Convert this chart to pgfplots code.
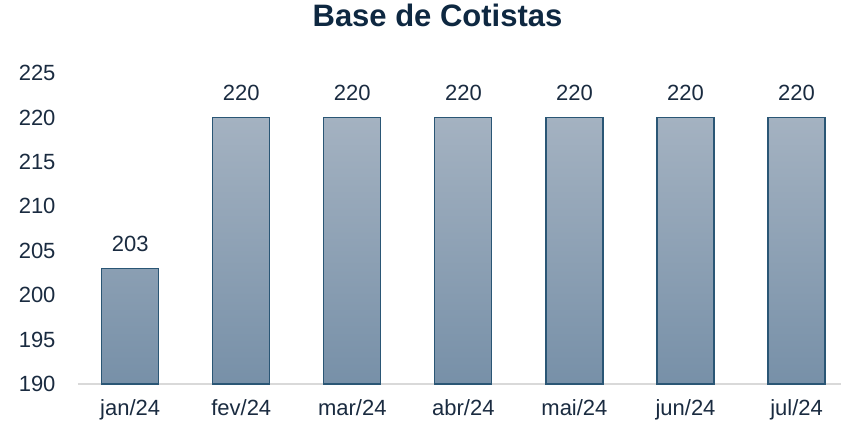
\documentclass[border=0pt]{standalone}
\usepackage{pgfplots}
\pgfplotsset{compat=1.18}
\usepackage{fontspec}
\setmainfont{Liberation Sans}
\definecolor{txt}{HTML}{1A2B40}
\definecolor{ttl}{HTML}{0E2841}
\definecolor{bartop}{HTML}{A4B2C1}
\definecolor{barbot}{HTML}{7790A8}
\definecolor{barline}{HTML}{2A5675}
\definecolor{axl}{HTML}{D9D9D9}
\begin{document}
\begin{tikzpicture}
\useasboundingbox (-78bp,-46bp) rectangle (763bp,384bp);
\begin{axis}[
  name=ax,
  at={(0,0)}, anchor=south west,
  scale only axis,
  width=763bp, height=311bp,
  xmin=-0.47, xmax=6.40,
  ymin=190, ymax=225,
  ytick={190,195,...,225},
  xtick={0,...,6},
  xticklabels={jan/24,fev/24,mar/24,abr/24,mai/24,jun/24,jul/24},
  axis lines=left,
  axis line style={draw=none},
  x axis line style={draw=axl, line width=1.2bp, -},
  y axis line style={draw=none},
  major tick length=0,
  tick label style={font=\fontsize{22bp}{26bp}\selectfont, text=txt},
  /pgf/number format/assume math mode=true,
  /pgf/number format/1000 sep={},
  yticklabel style={xshift=-19bp},
  xticklabel style={yshift=-12bp},
  title={Base de Cotistas},
  title style={at={(0.4712,1)}, anchor=base, yshift=41bp,
    font=\fontsize{31bp}{36bp}\selectfont\bfseries, text=ttl},
  ybar, bar width=57bp, bar shift=0pt,
  nodes near coords,
  every node near coord/.append style={font=\fontsize{22bp}{26bp}\selectfont, text=txt, yshift=13bp},
  clip=false,
]
\addplot[draw=barline, line width=1.2bp, top color=bartop, bottom color=barbot]
  coordinates {(0,203) (1,220) (2,220) (3,220) (4,220) (5,220) (6,220)};
\end{axis}
\end{tikzpicture}
\end{document}
